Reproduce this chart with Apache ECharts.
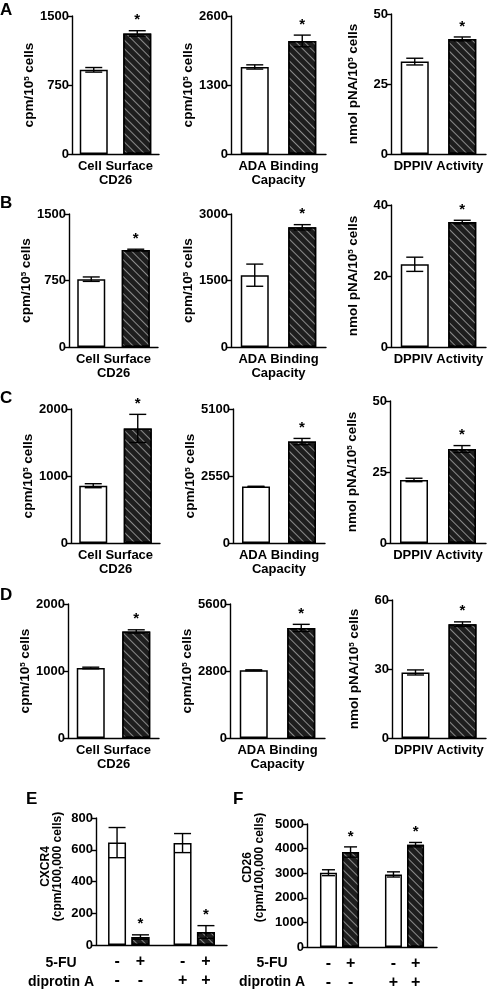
<!DOCTYPE html>
<html><head><meta charset="utf-8">
<script src="https://cdn.jsdelivr.net/npm/echarts@6/dist/echarts.min.js"></script>
<style>html,body{margin:0;padding:0;background:#fff}#c{width:487px;height:989px}</style>
</head><body><div id="c"></div>
<script>
// ---------- data ----------
const rowLetters = ['A', 'B', 'C', 'D'];
const panelCaptions = ['Cell Surface\nCD26', 'ADA Binding\nCapacity', 'DPPIV Activity'];
const panelYTitles = ['cpm/10{s|5} cells', 'cpm/10{s|5} cells', 'nmol pNA/10{s|5} cells'];
const yMax = [[1500, 2600, 50], [1500, 3000, 40], [2000, 5100, 50], [2000, 5600, 60]];
const ctrlMean = [[915, 1640, 33], [765, 1620, 23.3], [855, 2150, 22.2], [1045, 2830, 28.5]];
const ctrlErr = [[25, 40, 1.2], [25, 250, 2], [30, 10, 0.6], [12, 20, 1.1]];
const treatMean = [[1310, 2130, 41.1], [1095, 2700, 35.2], [1710, 3860, 33.1], [1590, 4600, 49.5]];
const treatErr = [[30, 110, 0.7], [8, 60, 0.5], [210, 120, 1.2], [25, 150, 1.0]];
const treatSig = [[1, 1, 1], [1, 1, 1], [1, 1, 1], [1, 1, 1]];

const groupCats = ['no diprotin A', 'diprotin A'];
const fuRow = ['-', '+', '-', '+'];
const dipRow = ['-', '-', '+', '+'];
const eCtrlMean = [645, 642], eCtrlErr = [95, 60], eFuMean = [50, 82], eFuErr = [14, 40], eFuSig = [1, 1];
const fCtrlMean = [3020, 2950], fCtrlErr = [120, 105], fFuMean = [3860, 4160], fFuErr = [210, 90], fFuSig = [1, 1];
const eYTitle = 'CXCR4\n(cpm/100,000 cells)', eYMax = 800, eYStep = 200;
const fYTitle = 'CD26\n(cpm/100,000 cells)', fYMax = 5000, fYStep = 1000;

// ---------- layout ----------
const FONT = 'Liberation Sans, Arial, Helvetica, sans-serif';
const colLeft = [[72, 231, 391], [69, 231, 391], [71, 233, 390], [68, 230, 392]];
const colRight = [[159, 326, 486], [158, 326, 486], [160, 325, 486], [159, 325, 486]];
const rowTop = [[16, 16, 14], [214, 214, 205], [409, 409, 401], [604, 604, 600]];
const rowBottom = [154, 347, 543, 738];

const hatchDecal = {
  symbol: 'rect', symbolSize: 1, dashArrayX: [1, 0], dashArrayY: [1, 4.5],
  rotation: Math.PI / 4, color: 'rgba(185,185,185,0.7)'
};
const whiteStyle = { color: '#fff', borderColor: '#000', borderWidth: 1.5 };
const darkStyle = { color: '#1e1e1e', borderColor: '#000', borderWidth: 1.5, decal: hatchDecal };

function errRenderer(offset, capHalf) {
  return function (params, api) {
    const c = api.value(0), m = api.value(1), e = api.value(2), s = api.value(3);
    const pT = api.coord([c, m + e]), pB = api.coord([c, m - e]);
    const x = pT[0] + offset;
    const st = { stroke: '#000', lineWidth: 1.4 };
    const ch = [
      { type: 'line', shape: { x1: x, y1: pT[1], x2: x, y2: pB[1] }, style: st },
      { type: 'line', shape: { x1: x - capHalf, y1: pT[1], x2: x + capHalf, y2: pT[1] }, style: st },
      { type: 'line', shape: { x1: x - capHalf, y1: pB[1], x2: x + capHalf, y2: pB[1] }, style: st }
    ];
    if (s) ch.push({ type: 'text', style: { text: '*', x: x, y: pT[1] - 3, align: 'center', verticalAlign: 'bottom', font: 'bold 15px ' + FONT, fill: '#000' } });
    return { type: 'group', children: ch };
  };
}

const grids = [], xAxes = [], yAxes = [], series = [], graphics = [];
const baseY = (max, step, title, gap, fs, pad) => ({
  type: 'value', min: 0, max: max, interval: step,
  splitLine: { show: false },
  axisLine: { show: true, lineStyle: { color: '#000', width: 1.4 } },
  axisTick: { show: true, length: 4, lineStyle: { color: '#000', width: 1.4 } },
  axisLabel: { color: '#000', fontFamily: FONT, fontWeight: 'bold', fontSize: 13, margin: 3, formatter: (v) => String(v) },
  name: title, nameLocation: 'middle', nameGap: gap,
  nameTextStyle: {
    color: '#000', fontFamily: FONT, fontWeight: 'bold', fontSize: fs, lineHeight: 12, padding: pad,
    rich: { s: { fontFamily: FONT, fontWeight: 'bold', fontSize: 8, verticalAlign: 'top', color: '#000' } }
  }
});

for (let r = 0; r < 4; r++) {
  for (let c = 0; c < 3; c++) {
    const gi = grids.length;
    grids.push({ left: colLeft[r][c], top: rowTop[r][c], width: colRight[r][c] - colLeft[r][c], height: rowBottom[r] - rowTop[r][c] });
    xAxes.push({
      gridIndex: gi, type: 'category', data: ['control', 'treated'],
      axisLine: { lineStyle: { color: '#000', width: 1.4 } }, axisTick: { show: false }, axisLabel: { show: false },
      name: panelCaptions[c], nameLocation: 'middle', nameGap: 5,
      nameTextStyle: { color: '#000', fontFamily: FONT, fontWeight: 'bold', fontSize: 13, lineHeight: 14, verticalAlign: 'top' }
    });
    yAxes.push(Object.assign({ gridIndex: gi }, baseY(yMax[r][c], yMax[r][c] / 2, panelYTitles[c], 32, 13.5, 0)));
    series.push({
      type: 'bar', xAxisIndex: gi, yAxisIndex: gi, barWidth: 28, silent: true,
      data: [{ value: ctrlMean[r][c], itemStyle: whiteStyle }, { value: treatMean[r][c], itemStyle: darkStyle }]
    });
    series.push({
      type: 'custom', xAxisIndex: gi, yAxisIndex: gi, silent: true, z: 5,
      renderItem: errRenderer(0, 8.5),
      data: [[0, ctrlMean[r][c], ctrlErr[r][c], 0], [1, treatMean[r][c], treatErr[r][c], treatSig[r][c]]]
    });
  }
}

// E and F
function groupPanel(left, top, right, bottom, ctrlM, ctrlE, fuM, fuE, fuS, yMaxV, step, title, gap, pad, barW, capHalf) {
  const gi = grids.length;
  grids.push({ left: left, top: top, width: right - left, height: bottom - top });
  xAxes.push({
    gridIndex: gi, type: 'category', data: groupCats,
    axisLine: { lineStyle: { color: '#000', width: 1.4 } }, axisTick: { show: false }, axisLabel: { show: false }
  });
  yAxes.push(Object.assign({ gridIndex: gi }, baseY(yMaxV, step, title, gap, 12, pad)));
  const gapPx = barW * 0.3;
  const off = (barW + gapPx) / 2;
  const lab = (rowIdx) => ({
    show: true, position: 'bottom', distance: 7, color: '#000', fontFamily: FONT, fontWeight: 'bold', fontSize: 16, lineHeight: 19,
    formatter: (p) => fuRow[p.dataIndex * 2 + rowIdx] + '\n' + dipRow[p.dataIndex * 2 + rowIdx]
  });
  series.push({ type: 'bar', xAxisIndex: gi, yAxisIndex: gi, barWidth: barW, barGap: '30%', silent: true, itemStyle: whiteStyle, label: lab(0), data: ctrlM });
  series.push({ type: 'bar', xAxisIndex: gi, yAxisIndex: gi, barWidth: barW, barGap: '30%', silent: true, itemStyle: darkStyle, label: lab(1), data: fuM });
  series.push({ type: 'custom', xAxisIndex: gi, yAxisIndex: gi, silent: true, z: 5, renderItem: errRenderer(-off, capHalf), data: ctrlM.map((v, i) => [i, v, ctrlE[i], 0]) });
  series.push({ type: 'custom', xAxisIndex: gi, yAxisIndex: gi, silent: true, z: 5, renderItem: errRenderer(off, capHalf), data: fuM.map((v, i) => [i, v, fuE[i], fuS[i]]) });
}
groupPanel(96, 818, 227, 945, eCtrlMean, eCtrlErr, eFuMean, eFuErr, eFuSig, eYMax, eYStep, eYTitle, 32, [0, 0, 0, 30], 18, 8.5);
groupPanel(307, 824, 437, 947, fCtrlMean, fCtrlErr, fFuMean, fFuErr, fFuSig, fYMax, fYStep, fYTitle, 41, [0, 0, 0, 36], 17, 6.5);

// panel letters
const letterPos = [[0, 2], [0, 195], [0, 390], [0, 587]];
rowLetters.forEach((L, i) => graphics.push({ type: 'text', left: letterPos[i][0], top: letterPos[i][1], style: { text: L, font: 'bold 17px ' + FONT, fill: '#000' } }));
graphics.push({ type: 'text', left: 26, top: 791, style: { text: 'E', font: 'bold 17px ' + FONT, fill: '#000' } });
graphics.push({ type: 'text', left: 233, top: 791, style: { text: 'F', font: 'bold 17px ' + FONT, fill: '#000' } });
// row names under E and F
const rowNames = ['5-FU', 'diprotin A'];
[61, 272].forEach((cx) => {
  rowNames.forEach((t, k) => graphics.push({
    type: 'text', x: cx, y: 963 + k * 19,
    style: { text: t, font: 'bold 14px ' + FONT, fill: '#000', align: 'center', verticalAlign: 'middle' }
  }));
});

const chart = echarts.init(document.getElementById('c'), null, { renderer: 'canvas' });
chart.setOption({
  animation: false, backgroundColor: '#fff',
  grid: grids, xAxis: xAxes, yAxis: yAxes, series: series, graphic: graphics
});
</script></body></html>
